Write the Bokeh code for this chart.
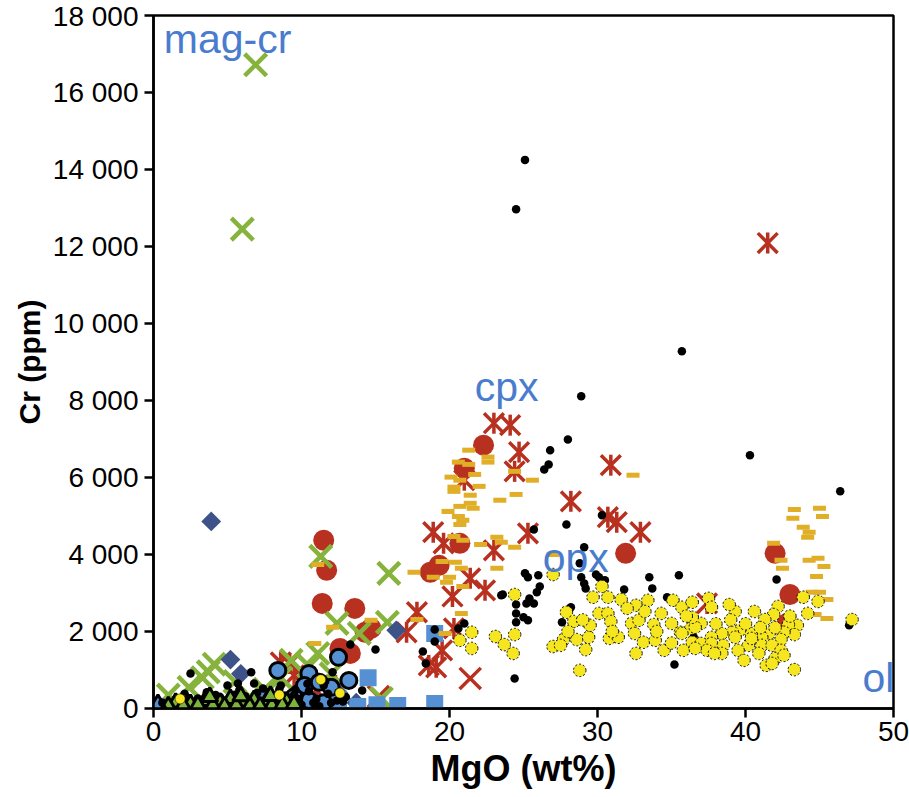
from bokeh.plotting import figure
from bokeh.models import FixedTicker, Range1d
from bokeh.embed import file_html
from bokeh.resources import INLINE
from bokeh.core.properties import value
import math

# ---------------- data (MgO wt%, Cr ppm) ----------------
black_mgo = [25.1, 24.5, 35.7, 28.9, 28.0, 40.3, 46.4, 26.8, 26.7, 26.4, 30.3, 27.9, 25.7, 29.1, 28.8,
             25.1, 25.3, 26.0, 28.9, 29.1, 29.2, 29.9, 30.1, 30.5, 31.8, 33.5, 33.7, 35.5, 34.7, 26.1,
             25.9, 23.6, 24.5, 25.2, 25.7, 25.4, 24.5, 25.0, 25.3, 24.5, 28.2, 27.6, 21.0, 20.6, 19.0,
             19.0, 18.2, 18.4, 24.4, 35.2, 42.1, 47.0, 23.5, 13.3, 15.0, 2.5, 6.6, 12.1, 14.1, 12.4,
             5.0, 5.7, 6.8, 36.5,
             1.0, 1.5, 2.0, 2.8, 3.0, 3.5, 4.0, 4.5, 5.0, 5.5, 6.0, 6.5, 7.0, 7.5, 8.0, 8.5, 9.0, 9.5,
             10.0, 10.5, 11.0, 11.5, 12.0, 12.5, 13.0, 3.2, 5.2, 7.2, 9.2, 11.2,
             0.6, 1.2, 1.8, 2.3, 3.8, 4.2, 4.8, 6.2, 6.9, 7.8, 8.2, 8.8, 9.8, 10.8, 11.8, 12.8,
             2.1, 3.6, 5.8, 7.4, 8.6, 9.6, 10.4, 11.6]
black_cr = [14250, 12970, 9280, 8110, 6990, 6580, 5640, 6710, 6340, 6210, 5020, 4780, 4650, 4190, 3770,
            3510, 3410, 3460, 3410, 3250, 3120, 3480, 3410, 3330, 3090, 3410, 3120, 3460, 2890, 3170,
            3020, 2960, 2700, 2730, 2730, 2860, 2470, 2370, 2290, 2240, 2630, 2240, 2210, 2080, 2050,
            1740, 1480, 1170, 780, 1140, 3350, 2160, 2940, 1660, 1530, 910, 940, 940, 470, 210,
            600, 650, 650, 1850,
            100, 200, 60, 150, 260, 80, 190, 300, 120, 360, 60, 230, 400, 160, 300, 500, 200, 350,
            100, 450, 250, 600, 150, 420, 300, 50, 30, 30, 40, 60,
            150, 40, 120, 280, 130, 350, 60, 320, 150, 420, 90, 300, 250, 150, 380, 180,
            380, 420, 480, 520, 600, 480, 640, 700]

ol_mgo = [27.0, 24.4, 21.5, 20.7, 21.5, 23.1, 23.7, 24.4, 24.3, 27.9, 28.4, 27.7, 27.0, 27.5, 28.6,
          29.2, 28.8, 29.4, 29.5, 29.7, 30.3, 30.7, 31.6, 30.1, 30.7, 30.9, 30.8, 31.4, 32.3, 32.8,
          32.6, 33.4, 33.2, 34.3, 33.8, 32.5, 33.1, 32.6, 33.9, 34.5, 35.1, 35.7, 36.4, 35.0, 35.6,
          36.3, 35.8, 36.8, 37.5, 37.7, 39.3, 40.6, 42.2, 41.9, 41.3, 43.9, 44.9, 44.2, 47.2, 43.5,
          42.9, 43.3, 42.6, 42.4, 41.6, 41.1, 40.4, 39.6, 39.1, 38.4, 37.7, 37.0, 36.6, 36.4, 35.7,
          36.4, 37.0, 37.7, 38.5, 39.3, 40.2, 41.1, 41.8, 42.4, 39.5, 38.4, 37.4, 36.6, 39.9, 41.4,
          42.0, 42.6, 41.8, 43.3, 37.9, 40.9, 40.4, 28.0, 29.0, 31.0, 32.0, 34.0, 35.0, 38.0, 39.0,
          40.0, 41.0, 42.0, 43.0, 38.9, 36.0]
ol_cr = [3480, 2960, 1980, 1770, 1560, 1870, 1660, 1920, 1430, 2500, 2260, 1790, 1610, 1640, 1790,
         1530, 990, 1850, 2160, 2890, 3170, 2890, 2830, 2470, 2470, 2260, 1820, 1850, 2210, 2290,
         2680, 2810, 2520, 2470, 2180, 1950, 1720, 1430, 1770, 1510, 2810, 2630, 2760, 2210, 1980,
         2080, 1510, 1690, 2860, 2630, 2520, 2520, 2650, 2440, 2310, 2890, 2780, 2470, 2310, 2160,
         2180, 1920, 1980, 1790, 1950, 1850, 1950, 2030, 1980, 1950, 1850, 2210, 2110, 2370, 1950,
         1720, 1690, 1690, 1640, 1850, 1640, 1640, 1640, 1510, 1510, 1430, 1510, 1560, 1250, 1120,
         1300, 1380, 1170, 1010, 1430, 1430, 1820, 2000, 2300, 2000, 2600, 2000, 1700, 2200, 2300,
         2200, 2100, 2100, 2400, 2700, 2400]

dash_mgo = [21.3, 22.6, 22.6, 20.6, 21.3, 21.7, 20.1, 20.7, 20.3, 20.3, 22.0, 21.4, 23.4, 24.5, 25.6,
            24.4, 19.9, 20.7, 21.6, 21.4, 20.6, 20.9, 20.7, 20.3, 20.9, 23.2, 23.5, 22.1, 24.4, 27.0,
            17.6, 19.5, 20.4, 20.8, 18.9, 20.0, 19.8, 20.9, 23.2, 20.8, 17.8, 19.7, 32.4,
            43.3, 45.0, 43.2, 45.2, 43.9, 44.3, 44.2, 41.9, 42.4, 42.5, 44.3, 44.9, 45.3, 44.8, 44.5,
            45.0, 45.5, 44.7, 45.5, 11.1, 12.1, 14.7, 10.9]
dash_cr = [6710, 6530, 6400, 6400, 6340, 6080, 6010, 5930, 5750, 5640, 5770, 5540, 5410, 5560, 5930,
           6160, 5120, 5250, 5200, 5330, 4990, 4890, 4780, 4470, 4370, 4450, 4320, 4260, 4190, 4000,
           3540, 3820, 3800, 3640, 3410, 3410, 3280, 3170, 3640, 2470, 2310, 1950, 6060,
           5170, 5200, 4940, 4990, 4710, 4580, 4450, 4290, 3850, 3640, 3850, 3900, 3690, 3430, 3020,
           3020, 2830, 2440, 2340, 3740, 2110, 2290, 1690]

ast_mgo = [23.0, 24.1, 24.7, 24.4, 21.0, 30.9, 28.2, 30.7, 31.3, 32.9, 18.9, 19.6, 25.3, 23.0, 21.4,
           22.4, 20.2, 17.8, 17.1, 20.3, 19.5, 18.6, 19.1, 41.5, 37.4, 9.2, 9.5, 8.6, 11.0, 12.3]
ast_cr = [7410, 7360, 6660, 6160, 5930, 6320, 5380, 4970, 4840, 4580, 4580, 4290, 4550, 4110, 3380,
          3070, 2910, 2500, 1980, 2080, 1510, 1120, 1070, 12090, 2730, 1170, 860, 1200, 470, 600]

redx_mgo = [21.4, 15.2, 10.0]
redx_cr = [780, 310, 250]

redc_mgo = [22.3, 21.0, 20.7, 18.7, 19.3, 31.9, 11.5, 11.7, 11.4, 13.6, 14.3, 12.6, 13.3, 42.0, 43.0,
            42.8, 14.7]
redc_cr = [6840, 6240, 4290, 3540, 3720, 4030, 4370, 3590, 2730, 2600, 1980, 1560, 1430, 4030, 2960,
           2210, 2080]

grx_mgo = [6.9, 6.0, 11.3, 15.9, 12.4, 13.9, 15.8, 11.1, 9.3, 15.4, 4.1, 3.3, 2.4, 1.0, 5.5, 7.5,
           8.6, 10.5, 12.0, 3.7, 6.5]
grx_cr = [16720, 12450, 3950, 3510, 2210, 1950, 2240, 1430, 1250, 260, 1150, 800, 550, 350, 700, 500,
          800, 1100, 900, 950, 300]

dia_mgo = [3.9, 5.2, 16.4, 5.9, 13.7, 11.0, 6.0, 12.5, 2.5]
dia_cr = [4860, 1270, 2030, 900, 150, 150, 100, 400, 100]

sq_mgo = [0.2, 14.5, 15.1, 16.5, 19.0, 19.0, 13.8, 12.5, 11.5]
sq_cr = [50, 800, 100, 80, 130, 1950, 50, 250, 100]

bc_mgo = [8.4, 12.5, 10.5, 13.2, 9.8, 10.5, 10.2, 11.2, 9.5, 11.5, 12.0, 7.5, 8.8]
bc_cr = [990, 1330, 910, 730, 390, 210, 600, 680, 300, 150, 550, 300, 200]

tri_mgo = [1.5, 2.5, 3.5, 4.5, 5.2, 6.0, 6.8, 7.6, 8.3, 9.0, 4.0, 6.5, 8.0,
           1.0, 2.0, 3.0, 4.8, 5.6, 7.2, 8.7, 9.5, 3.8, 5.9, 7.9]
tri_cr = [150, 120, 200, 150, 250, 180, 220, 150, 200, 180, 80, 60, 80,
          60, 70, 90, 60, 80, 60, 90, 120, 300, 320, 330]

ydot_mgo = [1.8, 11.3, 12.6, 8.5]
ydot_cr = [250, 750, 400, 350]

htri_mgo = [0.3]
htri_cr = [60]

labels = ["mag-cr", "cpx", "opx", "ol"]
label_mgo = [0.7, 21.7, 26.3, 47.9]
label_cr = [17400, 8350, 3900, 800]

y_ticks = [0, 2000, 4000, 6000, 8000, 10000, 12000, 14000, 16000, 18000]
y_tick_labels = ["0", "2 000", "4 000", "6 000", "8 000", "10 000", "12 000", "14 000", "16 000", "18 000"]
x_ticks = [0, 10, 20, 30, 40, 50]

# ---------------- figure ----------------
p = figure(width=909, height=797, output_backend="svg", toolbar_location=None,
           x_range=Range1d(0, 50), y_range=Range1d(0, 18000),
           min_border_left=153, min_border_right=16, min_border_top=15, min_border_bottom=89)
p.grid.visible = False
p.outline_line_color = "black"
p.outline_line_width = 2.5
p.background_fill_color = "white"
p.border_fill_color = "white"

FONT = "Liberation Sans"
for ax in (p.xaxis[0], p.yaxis[0]):
    ax.axis_line_width = 2.5
    ax.axis_line_color = "black"
    ax.major_tick_line_width = 2.5
    ax.major_tick_line_color = "black"
    ax.major_tick_in = 0
    ax.major_tick_out = 9
    ax.minor_tick_line_color = None
    ax.major_label_text_font = FONT
    ax.major_label_text_font_size = "28px"
    ax.major_label_text_color = "black"
    ax.axis_label_text_font = FONT
    ax.axis_label_text_font_style = "bold"
    ax.axis_label_text_color = "black"

p.xaxis.ticker = FixedTicker(ticks=x_ticks)
p.yaxis.ticker = FixedTicker(ticks=y_ticks)
p.yaxis.major_label_overrides = {t: s for t, s in zip(y_ticks, y_tick_labels)}
p.xaxis.axis_label = "MgO (wt%)"
p.yaxis.axis_label = "Cr (ppm)"
p.xaxis.axis_label_text_font_size = "36px"
p.yaxis.axis_label_text_font_size = "30px"
p.xaxis.major_label_standoff = 4
p.yaxis.major_label_standoff = 6
p.xaxis.axis_label_standoff = 4
p.yaxis.axis_label_standoff = 4

RED = "#b8301f"
GREEN = "#86b33b"
ORANGE = "#e1ae27"
LBLUE = "#5590d2"
DBLUE = "#3d5289"
YEL = "#f5e61f"

# draw order (bottom to top)
p.scatter(redc_mgo, redc_cr, marker="circle", size=21, fill_color=RED, line_color=None)
p.scatter(redx_mgo, redx_cr, marker="x", size=30, line_color=RED, line_width=3.5)
p.scatter(ast_mgo, ast_cr, marker="x", size=28, line_color=RED, line_width=3.5)
p.scatter(ast_mgo, ast_cr, marker="dash", size=21, angle=math.pi / 2, line_color=RED, line_width=3.5)
p.scatter(grx_mgo, grx_cr, marker="x", size=31, line_color=GREEN, line_width=4.5)
p.scatter(dia_mgo, dia_cr, marker="square", size=14, angle=math.pi / 4, fill_color=DBLUE, line_color=None)
p.scatter(sq_mgo, sq_cr, marker="square", size=17, fill_color=LBLUE, line_color=None)
p.scatter(bc_mgo, bc_cr, marker="circle", size=16, fill_color=LBLUE, line_color="black", line_width=3)
p.scatter(dash_mgo, dash_cr, marker="dash", size=13, line_color=ORANGE, line_width=5)
p.scatter(black_mgo, black_cr, marker="circle", size=8.5, fill_color="black", line_color=None)
p.scatter(ol_mgo, ol_cr, marker="circle", size=12.5, fill_color=YEL, line_color="black",
          line_width=1, line_dash="2 2")
p.scatter(tri_mgo, tri_cr, marker="triangle", size=16, fill_color="#7cb33a", line_color="black", line_width=3)
p.scatter(ydot_mgo, ydot_cr, marker="circle", size=10, fill_color=YEL, line_color="black", line_width=0.5)
p.scatter(htri_mgo, htri_cr, marker="triangle", size=20, fill_color=None, line_color="black", line_width=3)

p.text(label_mgo, label_cr, text=labels, text_font=value(FONT), text_font_size="41px",
       text_color="#4a7cce", text_baseline="alphabetic", text_align="left")

open("out.html", "w").write(file_html(p, INLINE))
